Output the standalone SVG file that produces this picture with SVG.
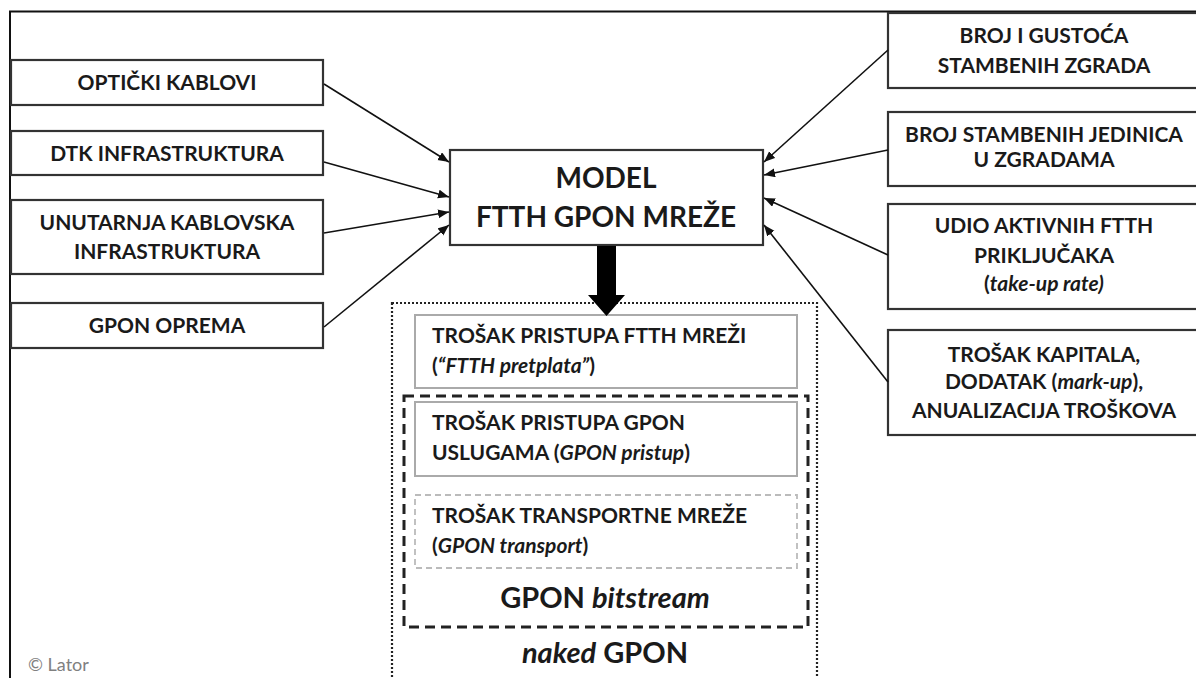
<svg xmlns="http://www.w3.org/2000/svg" width="1196" height="678" viewBox="0 0 1196 678">
<defs>
<style>
.box{fill:#fff;stroke:#333;stroke-width:2.2}
.t{font-family:Lato,"Open Sans","Liberation Sans",sans-serif;font-weight:bold;font-size:21px;fill:#1a1a1a}
.c{text-anchor:middle}
.big{font-size:28px}
.mid{font-size:29px}
.inner{fill:#fff;stroke:#aaa;stroke-width:2}
.conn{stroke:#111;stroke-width:1.6;fill:none;marker-end:url(#ah)}
.it{font-style:italic}
</style>
<marker id="ah" markerUnits="userSpaceOnUse" markerWidth="12" markerHeight="10" refX="11" refY="4.5" orient="auto">
<path d="M0,0 L11,4.5 L0,9 z" fill="#111"/>
</marker>
</defs>
<rect width="1196" height="678" fill="#fff"/>
<path d="M10,678 V11.5 H1196" fill="none" stroke="#111" stroke-width="2"/>

<g id="opticki"><rect class="box" x="11" y="60" width="312" height="45"/><text class="t c" x="167" y="90">OPTIČKI KABLOVI</text></g>
<g id="dtk"><rect class="box" x="11" y="131" width="312" height="44"/><text class="t c" x="167" y="161">DTK INFRASTRUKTURA</text></g>
<g id="unutarnja"><rect class="box" x="11" y="200" width="312" height="74"/><text class="t c" x="167" y="230">UNUTARNJA KABLOVSKA</text><text class="t c" x="167" y="259">INFRASTRUKTURA</text></g>
<g id="gpon-oprema"><rect class="box" x="11" y="303" width="312" height="45"/><text class="t c" x="167" y="333">GPON OPREMA</text></g>

<g id="model"><rect class="box" x="450" y="150" width="313" height="95"/><text class="t c big" x="606" y="188">MODEL</text><text class="t c big" x="606" y="227">FTTH GPON MREŽE</text></g>

<g id="broj-gustoca"><rect class="box" x="888" y="13" width="320" height="75"/><text class="t c" x="1044" y="43">BROJ I GUSTOĆA</text><text class="t c" x="1044" y="73">STAMBENIH ZGRADA</text></g>
<g id="broj-jedinica"><rect class="box" x="888" y="112" width="320" height="74"/><text class="t c" x="1044" y="142">BROJ STAMBENIH JEDINICA</text><text class="t c" x="1044" y="167">U ZGRADAMA</text></g>
<g id="udio"><rect class="box" x="888" y="204" width="320" height="105"/><text class="t c" x="1044" y="233">UDIO AKTIVNIH FTTH</text><text class="t c" x="1044" y="263">PRIKLJUČAKA</text><text class="t c" x="1044" y="291">(<tspan class="it">take-up rate)</tspan></text></g>
<g id="trosak-kapitala"><rect class="box" x="888" y="330" width="320" height="105"/><text class="t c" x="1044" y="362">TROŠAK KAPITALA,</text><text class="t c" x="1044" y="389">DODATAK (<tspan class="it">mark-up</tspan>),</text><text class="t c" x="1044" y="418">ANUALIZACIJA TROŠKOVA</text></g>

<g id="naked-gpon">
<rect x="392" y="303" width="425" height="390" fill="none" stroke="#222" stroke-width="2.2" stroke-dasharray="2 2"/>
<text class="t c mid" x="605" y="663"><tspan class="it">naked</tspan> GPON</text>
</g>
<g id="ftth-pretplata"><rect class="inner" x="415" y="315" width="382" height="73"/><text class="t" x="432" y="343">TROŠAK PRISTUPA FTTH MREŽI</text><text class="t" x="432" y="373">(<tspan class="it">“FTTH pretplata”</tspan>)</text></g>
<g id="gpon-bitstream">
<rect x="404" y="396" width="404" height="231" fill="none" stroke="#222" stroke-width="3" stroke-dasharray="10 6"/>
<text class="t c mid" x="605" y="608">GPON <tspan class="it">bitstream</tspan></text>
</g>
<g id="gpon-pristup"><rect class="inner" x="415" y="402" width="382" height="74"/><text class="t" x="432" y="430">TROŠAK PRISTUPA GPON</text><text class="t" x="432" y="460">USLUGAMA (<tspan class="it">GPON pristup</tspan>)</text></g>
<g id="gpon-transport"><rect x="415" y="495" width="382" height="73" fill="#fff" stroke="#bbb" stroke-width="1.8" stroke-dasharray="6 4"/><text class="t" x="432" y="523">TROŠAK TRANSPORTNE MREŽE</text><text class="t" x="432" y="553">(<tspan class="it">GPON transport</tspan>)</text></g>

<g id="connectors">
<line class="conn" x1="324" y1="84" x2="449" y2="162"/>
<line class="conn" x1="324" y1="162" x2="449" y2="197"/>
<line class="conn" x1="324" y1="233" x2="449" y2="212"/>
<line class="conn" x1="324" y1="327" x2="449" y2="225"/>
<line class="conn" x1="888" y1="50" x2="764" y2="162"/>
<line class="conn" x1="888" y1="150" x2="764" y2="175"/>
<line class="conn" x1="888" y1="255" x2="764" y2="198"/>
<line class="conn" x1="888" y1="382" x2="764" y2="225"/>
<path d="M597,246 H616 V295 H625 L606.5,316 L588,295 H597 Z" fill="#000"/>
</g>

<text x="28" y="671" font-family="Lato,'Open Sans','Liberation Sans',sans-serif" font-size="18" fill="#808080">© Lator</text>
</svg>
